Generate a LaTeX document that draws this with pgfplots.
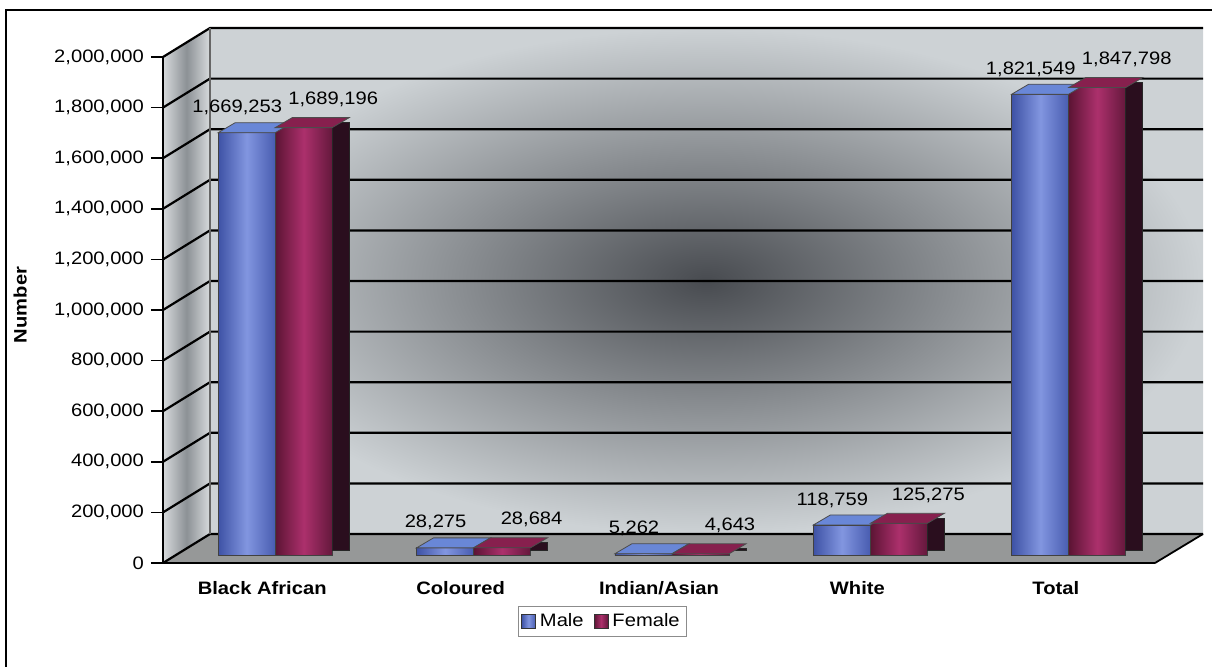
\documentclass[border=0pt]{standalone}
\usepackage{fontspec}
\setmainfont{Liberation Sans}[FakeStretch=1.12]
\usepackage{pgfplots}
\usepackage{pgfplotstable}
\pgfplotsset{compat=1.18}

\definecolor{maleL}{RGB}{62,82,165}
\definecolor{maleM}{RGB}{130,150,224}
\definecolor{maleR}{RGB}{72,92,176}
\definecolor{maleT}{RGB}{105,135,215}
\definecolor{femL}{RGB}{92,20,52}
\definecolor{femM}{RGB}{172,48,108}
\definecolor{femR}{RGB}{100,24,60}
\definecolor{femT}{RGB}{135,32,78}
\definecolor{femS}{RGB}{42,14,30}
\definecolor{wallin}{RGB}{72,75,80}
\definecolor{wallout}{RGB}{205,210,213}
\definecolor{floorc}{RGB}{150,152,152}
\definecolor{sideA}{RGB}{215,218,220}
\definecolor{sideB}{RGB}{140,145,150}

\pgfplotstableread{
x y lab
0 1669253 1,669,253
1 28275 28,275
2 5262 5,262
3 118759 118,759
4 1821549 1,821,549
}\male
\pgfplotstableread{
x y lab
0 1689196 1,689,196
1 28684 28,684
2 4643 4,643
3 125275 125,275
4 1847798 1,847,798
}\female

\newcommand{\lbl}{\fontsize{9}{10}\selectfont}

\pgfdeclareplotmark{maletop}{%
  \pgfpathmoveto{\pgfpoint{-28.5pt}{0pt}}\pgfpathlineto{\pgfpoint{0pt}{0pt}}%
  \pgfpathlineto{\pgfpoint{8.5pt}{5pt}}\pgfpathlineto{\pgfpoint{-20pt}{5pt}}\pgfpathclose
  \pgfusepath{fill,stroke}}
\pgfdeclareplotmark{femtop}{%
  \pgfpathmoveto{\pgfpoint{0pt}{0pt}}\pgfpathlineto{\pgfpoint{28.5pt}{0pt}}%
  \pgfpathlineto{\pgfpoint{37pt}{5pt}}\pgfpathlineto{\pgfpoint{8.5pt}{5pt}}\pgfpathclose
  \pgfusepath{fill,stroke}}

\begin{document}
\begin{tikzpicture}
\begin{scope}[x=0.5pt,y=-0.5pt,shift={(-81.5pt,281.5pt)}]
  \useasboundingbox (0,0) rectangle (1212,666);
  \begin{scope}
  \clip (0,0) rectangle (1212,666);
  \draw[line width=1pt] (6,700) -- (6,10) -- (1240,10);
  \end{scope}
  % back wall
  \shade[inner color=wallin, outer color=wallout] (210,28) rectangle (1203,534);
  % left side wall
  \shade[left color=sideA, right color=sideA, middle color=sideB] (163,57) -- (210,28) -- (210,534) -- (163,563) -- cycle;
  % floor
  \fill[floorc] (163,563) -- (210,534) -- (1203,534) -- (1155,563) -- cycle;
  \draw[line width=0.9pt] (1155,563) -- (1203,534);
  \foreach \k in {0,...,10} {
    \pgfmathsetmacro\yf{563-50.6*\k}
    \draw[line width=1.1pt] (163,\yf) -- (210,\yf-29) -- (1203,\yf-29);
  }
  \draw[line width=0.6pt, black!60] (210,28) -- (210,534);
\end{scope}

\begin{axis}[
  at={(0,0)}, anchor=south west,
  scale only axis, width=496pt, height=253pt,
  xmin=-0.5, xmax=4.5, ymin=0, ymax=2000000,
  axis lines*=left,
  axis line style={line width=0.9pt, black},
  clip=false,
  xtick={0,1,2,3,4},
  xticklabels={Black African,Coloured,Indian/Asian,White,Total},
  xtick style={draw=none},
  minor xtick={0.5,1.5,2.5,3.5},
  minor tick length=6pt,
  minor x tick style={black, line width=0.8pt},
  major tick length=6pt,
  tick align=outside,
  ytick={0,200000,...,2000000},
  scaled y ticks=false,
  ytick style={black, line width=0.8pt},
  yticklabel style={font=\lbl, /pgf/number format/.cd, fixed, 1000 sep={,}, assume math mode=true},
  xticklabel style={font=\lbl\bfseries, yshift=0.5pt},
  ylabel={\bfseries Number},
  ylabel style={font=\lbl, at={(axis description cs:-0.144,0.51)}, anchor=center},
  legend style={at={(0.443,-0.115)}, anchor=center, draw=black!45, font=\lbl,
    inner sep=1.5pt, /tikz/every even column/.append style={column sep=3pt}},
  legend columns=2,
  legend image code/.code={\draw[#1, draw=black!80] (0pt,-3.5pt) rectangle (7pt,3.5pt);},
]
\addlegendimage{left color=maleL, right color=maleR, middle color=maleM}
\addlegendentry{Male}
\addlegendimage{left color=femL, right color=femR, middle color=femM}
\addlegendentry{Female}

% male bars, one per category
\pgfplotsinvokeforeach{0,1,2,3,4}{
\addplot[ybar, bar width=28.5pt, bar shift=-14.25pt, forget plot,
  left color=maleL, right color=maleR, middle color=maleM, draw=black!75,
  xshift=6.5pt, yshift=4pt, restrict x to domain=#1:#1,
  nodes near coords, point meta=explicit symbolic,
  every node near coord/.append style={font=\lbl, anchor=center, inner sep=0pt, yshift=12.5pt, xshift=-19pt, text=black}]
  table[x=x, y=y, meta=lab] {\male};
}
\addplot[only marks, forget plot, mark=maletop, fill=maleT, draw=black!70, line width=0.4pt,
  xshift=6.5pt, yshift=4pt] table[x=x, y=y] {\male};

% female bars, one per category
\pgfplotsinvokeforeach{0,1,2,3,4}{
\addplot[ybar, bar width=28.5pt, bar shift=14.25pt, forget plot,
  left color=femL, right color=femR, middle color=femM, draw=black!75,
  xshift=6.5pt, yshift=4pt, restrict x to domain=#1:#1,
  nodes near coords, point meta=explicit symbolic,
  every node near coord/.append style={font=\lbl, anchor=center, inner sep=0pt, yshift=14pt, xshift=29pt, text=black}]
  table[x=x, y=y, meta=lab] {\female};
}
% female side faces
\addplot[ybar, bar width=8.5pt, bar shift=32.75pt, forget plot, fill=femS, draw=black!85,
  xshift=6.5pt, yshift=6.5pt] table[x=x, y=y] {\female};
\addplot[only marks, forget plot, mark=femtop, fill=femT, draw=black!70, line width=0.4pt,
  xshift=6.5pt, yshift=4pt] table[x=x, y=y] {\female};
\end{axis}
\end{tikzpicture}
\end{document}
